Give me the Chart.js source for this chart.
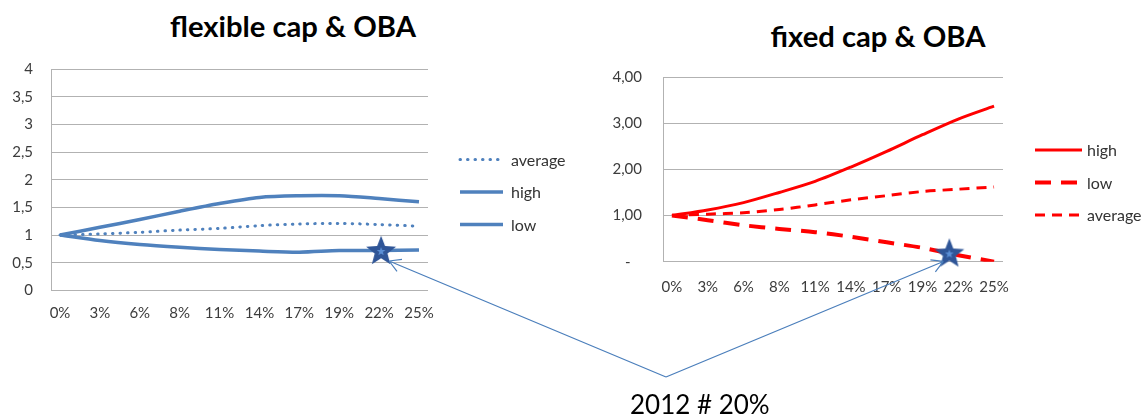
<!DOCTYPE html>
<html>
<head>
<meta charset="utf-8">
<script src="https://cdn.jsdelivr.net/npm/chart.js@4.4.1/dist/chart.umd.min.js"></script>
<style>
  html, body { margin: 0; padding: 0; background: #fff; }
  body { position: relative; width: 1145px; height: 417px; overflow: hidden; }
  .title { position: absolute; width: 400px; text-align: center; font: bold 29.2px/28px Lato, sans-serif; color: #000; white-space: nowrap; }
  #flexTitle { left: 93px; top: 12px; }
  #fixedTitle { left: 678px; top: 22px; }
  #flexChart { position: absolute; left: 0; top: 52px; }
  #fixedChart { position: absolute; left: 600px; top: 60px; }
  #arrows { position: absolute; left: 0; top: 0; pointer-events: none; }
  #note { position: absolute; left: 630px; top: 391px; font: 26px/26px Lato, sans-serif; color: #000; white-space: nowrap; }
</style>
</head>
<body>
<div class="title" id="flexTitle">flexible cap &amp; OBA</div>
<div class="title" id="fixedTitle">fixed cap &amp; OBA</div>
<canvas id="flexChart" width="590" height="274"></canvas>
<canvas id="fixedChart" width="545" height="238"></canvas>
<canvas id="arrows" width="1145" height="417"></canvas>
<div id="note">2012 # 20%</div>

<script>
// categories on the x axis
const xLabels = ['0%', '3%', '6%', '8%', '11%', '14%', '17%', '19%', '22%', '25%'];

// flexible cap & OBA
const flexAverage = [1.00, 1.02, 1.05, 1.09, 1.12, 1.17, 1.20, 1.21, 1.19, 1.16];
const flexHigh    = [1.00, 1.14, 1.28, 1.43, 1.57, 1.68, 1.71, 1.71, 1.66, 1.60];
const flexLow     = [1.00, 0.90, 0.83, 0.78, 0.74, 0.71, 0.69, 0.72, 0.72, 0.73];
const flexYLabels = ['0', '0,5', '1', '1,5', '2', '2,5', '3', '3,5', '4'];
const flexStar    = [8.05, 0.73];

// fixed cap & OBA
const fixedHigh    = [1.00, 1.12, 1.28, 1.50, 1.74, 2.05, 2.39, 2.75, 3.09, 3.37];
const fixedLow     = [1.00, 0.90, 0.79, 0.71, 0.64, 0.54, 0.42, 0.30, 0.14, 0.00];
const fixedAverage = [1.00, 1.03, 1.06, 1.13, 1.23, 1.34, 1.43, 1.52, 1.57, 1.62];
const fixedYLabels = ['-', '1,00', '2,00', '3,00', '4,00'];
const fixedStar    = [7.75, 0.20];

const GRID = '#b2b2b2';
const TICK = '#3c3c3c';
const BLUE = '#4f81bd';
const RED = '#ff0000';

const toPoints = (arr) => arr.map((y, i) => ({ x: i, y }));

function starImage(size) {
  const c = document.createElement('canvas');
  c.width = c.height = size;
  const g = c.getContext('2d');
  const path = (r, ri) => {
    g.beginPath();
    for (let k = 0; k < 10; k++) {
      const rr = k % 2 ? ri : r;
      const a = -Math.PI / 2 + k * Math.PI / 5;
      g.lineTo(size / 2 + rr * Math.cos(a), size / 2 + 1.5 + rr * Math.sin(a));
    }
    g.closePath();
  };
  path(size / 2 - 0.3, size / 2 * 0.42);
  g.fillStyle = '#2f5597';
  g.fill();
  path(4.5, 1.9);
  g.fillStyle = '#5b8fd6';
  g.fill();
  return c;
}

// legend drawn next to the plot from the datasets' own line styles
const lineLegend = {
  id: 'lineLegend',
  afterDraw(chart, args, opts) {
    const { ctx, chartArea } = chart;
    let y = chartArea.top + opts.top;
    const x0 = chartArea.right + opts.gap;
    ctx.save();
    ctx.font = '16px Lato, sans-serif';
    ctx.textBaseline = 'middle';
    chart.data.datasets.forEach((ds) => {
      if (!ds.label) return;
      ctx.beginPath();
      ctx.setLineDash(ds.borderDash || []);
      ctx.lineCap = ds.borderCapStyle || 'butt';
      ctx.lineWidth = ds.borderWidth;
      ctx.strokeStyle = ds.borderColor;
      ctx.moveTo(x0, y);
      ctx.lineTo(x0 + opts.sample, y);
      ctx.stroke();
      ctx.setLineDash([]);
      ctx.fillStyle = '#333';
      ctx.fillText(ds.label, x0 + opts.sample + opts.textGap, y + 1);
      y += opts.spacing;
    });
    ctx.restore();
  }
};

function makeChart(id, cfg) {
  return new Chart(document.getElementById(id), {
    type: 'line',
    data: {
      datasets: [
        {
          data: [{ x: cfg.star[0], y: cfg.star[1] }],
          showLine: false,
          pointStyle: starImage(32),
          pointRadius: 16,
          order: -1,
          clip: false
        },
        ...cfg.series
      ]
    },
    options: {
      responsive: false,
      animation: false,
      events: [],
      layout: { padding: { top: 11, right: cfg.padRight, left: 0, bottom: 0 } },
      elements: { point: { radius: 0 }, line: { tension: 0.3, fill: false } },
      plugins: {
        legend: { display: false },
        tooltip: { enabled: false },
        lineLegend: cfg.legend
      },
      scales: {
        x: {
          type: 'linear',
          min: cfg.xMin,
          max: cfg.xMax,
          afterBuildTicks: (s) => { s.ticks = xLabels.map((_, i) => ({ value: i })); },
          afterFit: (s) => { s.height = cfg.xHeight; },
          grid: { display: false },
          border: { display: false },
          ticks: {
            autoSkip: false,
            maxRotation: 0,
            padding: cfg.xPad,
            color: TICK,
            font: { family: 'Lato', size: 15 },
            callback: (v) => xLabels[v]
          }
        },
        y: {
          min: 0,
          max: 4,
          afterFit: (s) => {
            s.width = cfg.yWidth;
            s.paddingTop = 8;
            s.paddingBottom = 8;
          },
          grid: { color: GRID, drawTicks: false },
          border: { display: true, color: GRID },
          ticks: {
            stepSize: cfg.yStep,
            padding: cfg.yPad,
            color: TICK,
            font: { family: 'Lato', size: 15 },
            callback: (v, i) => (v === 0 && cfg.zeroPad ? cfg.yLabels[i] + '   ' : cfg.yLabels[i])
          }
        }
      }
    },
    plugins: [lineLegend]
  });
}

const flexChart = makeChart('flexChart', {
  star: flexStar,
  series: [
    { label: 'average', data: toPoints(flexAverage), borderColor: BLUE, borderWidth: 3, borderDash: [0.5, 7], borderCapStyle: 'round' },
    { label: 'high', data: toPoints(flexHigh), borderColor: BLUE, borderWidth: 3.5 },
    { label: 'low', data: toPoints(flexLow), borderColor: BLUE, borderWidth: 3.5 }
  ],
  padRight: 162,
  xMin: -0.226, xMax: 9.226,
  xHeight: 35.6, xPad: 6,
  yWidth: 51, yPad: 18, yStep: 0.5,
  yLabels: flexYLabels,
  legend: { top: 90.6, gap: 32, sample: 43, textGap: 8, spacing: 32.5 }
});

const fixedChart = makeChart('fixedChart', {
  star: fixedStar,
  series: [
    { label: 'high', data: toPoints(fixedHigh), borderColor: RED, borderWidth: 3 },
    { label: 'low', data: toPoints(fixedLow), borderColor: RED, borderWidth: 4, borderDash: [16, 10] },
    { label: 'average', data: toPoints(fixedAverage), borderColor: RED, borderWidth: 3, borderDash: [10, 7] }
  ],
  padRight: 142,
  xMin: -0.25, xMax: 9.25,
  xHeight: 36.3, xPad: 8,
  yWidth: 63, yPad: 21, yStep: 1,
  yLabels: fixedYLabels, zeroPad: true,
  legend: { top: 73, gap: 32, sample: 47, textGap: 5, spacing: 32.5 }
});

// connector lines from the label to both stars
function drawArrows() {
  const g = document.getElementById('arrows').getContext('2d');
  const apex = [666, 377];
  const targets = [
    { chart: flexChart, tip: [8, 11] },
    { chart: fixedChart, tip: [-6, 9] }
  ];
  g.strokeStyle = '#4a7ebb';
  g.lineWidth = 1.2;
  targets.forEach(({ chart, tip }) => {
    const box = chart.canvas.getBoundingClientRect();
    const pt = chart.getDatasetMeta(0).data[0];
    const tx = box.left + pt.x + tip[0];
    const ty = box.top + pt.y + tip[1];
    g.beginPath();
    g.moveTo(apex[0], apex[1]);
    g.lineTo(tx, ty);
    const ang = Math.atan2(apex[1] - ty, apex[0] - tx);
    [-0.52, 0.52].forEach((d) => {
      g.moveTo(tx, ty);
      g.lineTo(tx + 13 * Math.cos(ang + d), ty + 13 * Math.sin(ang + d));
    });
    g.stroke();
  });
}
drawArrows();
</script>
</body>
</html>
